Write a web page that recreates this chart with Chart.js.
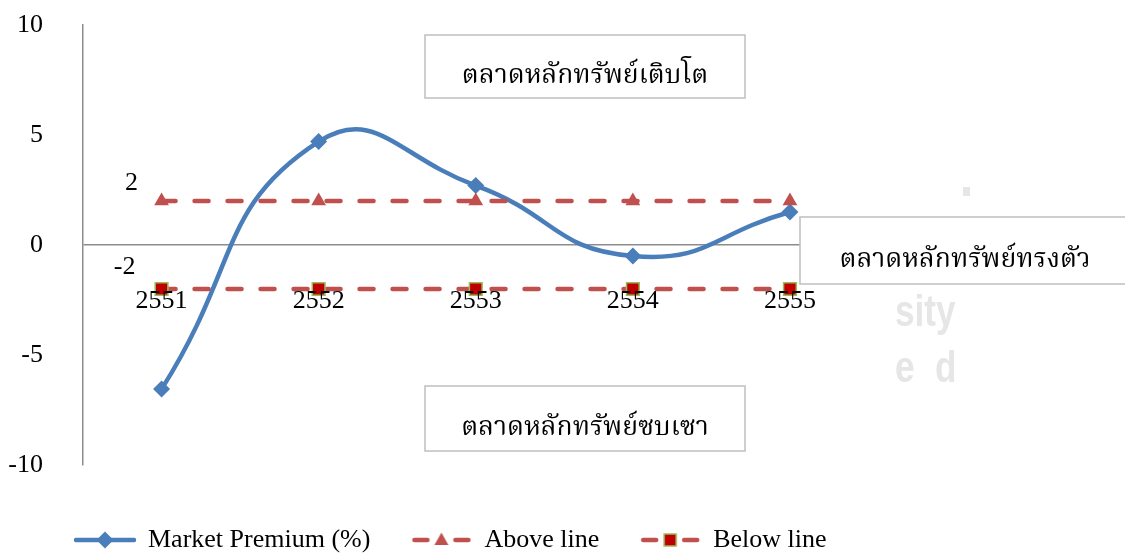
<!DOCTYPE html>
<html>
<head>
<meta charset="utf-8">
<script src="https://cdn.jsdelivr.net/npm/chart.js@4.4.1/dist/chart.umd.min.js"></script>
<style>
    html, body { margin: 0; padding: 0; background: #fff; }
</style>
</head>
<body>
<canvas id="chart" width="1125" height="553"></canvas>
<script>
const years = ['2551', '2552', '2553', '2554', '2555'];
const marketPremium = [-6.55, 4.7, 2.7, -0.5, 1.5];
const aboveLine = [2, 2, 2, 2, 2];
const belowLine = [-2, -2, -2, -2, -2];
const seriesNames = ['Market Premium (%)', 'Above line', 'Below line'];
const zoneNotes = ['ตลาดหลักทรัพย์เติบโต', 'ตลาดหลักทรัพย์ทรงตัว', 'ตลาดหลักทรัพย์ซบเซา'];

const serif = "'Liberation Serif', 'Times New Roman', 'Norasi', 'Noto Serif Thai', 'Noto Sans Thai', serif";
const blue = '#4A7EBB';
const red = '#C0504D';

// little line+marker pictures for the legend
function legendIcon(kind) {
    const c = document.createElement('canvas');
    c.width = 62; c.height = 22;
    const g = c.getContext('2d');
    g.lineWidth = 4.5;
    g.lineCap = 'round';
    if (kind === 0) {
        g.strokeStyle = blue;
        g.beginPath(); g.moveTo(2, 11); g.lineTo(60, 11); g.stroke();
        g.fillStyle = blue;
        g.beginPath(); g.moveTo(31, 2.5); g.lineTo(39.5, 11); g.lineTo(31, 19.5); g.lineTo(22.5, 11); g.closePath(); g.fill();
    } else {
        g.strokeStyle = red;
        g.beginPath(); g.moveTo(4, 11); g.lineTo(17, 11); g.moveTo(45, 11); g.lineTo(58, 11); g.stroke();
        if (kind === 1) {
            g.fillStyle = red;
            g.beginPath(); g.moveTo(31, 3.5); g.lineTo(38, 16); g.lineTo(24, 16); g.closePath(); g.fill();
        } else {
            g.fillStyle = '#C00000';
            g.fillRect(25, 5, 12, 12);
            g.strokeStyle = '#9BBB59';
            g.lineWidth = 1.5;
            g.strokeRect(25, 5, 12, 12);
        }
    }
    return c;
}
const legendIcons = [legendIcon(0), legendIcon(1), legendIcon(2)];

const notesPlugin = {
    id: 'notes',
    beforeDraw(chart) {
        const ctx = chart.ctx;
        ctx.save();
        ctx.fillStyle = '#fff';
        ctx.fillRect(0, 0, chart.width, chart.height);
        // faint watermark left over in the scan
        ctx.fillStyle = '#e6e6e6';
        ctx.fillRect(963, 187, 7, 9);
        ctx.font = "bold 44px 'Liberation Sans', Arial, sans-serif";
        ctx.textBaseline = 'alphabetic';
        ctx.translate(895, 0);
        ctx.scale(0.8, 1);
        ctx.fillText('sity', 0, 326);
        ctx.fillText('e', 0, 382);
        ctx.fillText('d', 50, 382);
        ctx.restore();
    },
    afterDraw(chart) {
        const ctx = chart.ctx;
        const xs = chart.scales.x, ys = chart.scales.y;
        ctx.save();
        ctx.font = '26px ' + serif;
        ctx.fillStyle = '#000';
        ctx.textAlign = 'center';
        ctx.textBaseline = 'middle';

        // category labels sit under the zero line (axis crosses at 0)
        const zeroY = ys.getPixelForValue(0);
        years.forEach((y, i) => ctx.fillText(y, xs.getPixelForValue(i), zeroY + 56));

        // value labels for the two reference lines
        const a = chart.getDatasetMeta(1).data[0];
        const b = chart.getDatasetMeta(2).data[0];
        ctx.fillText(String(aboveLine[0]), a.x - 30, a.y - 18);
        ctx.fillText(String(belowLine[0]), b.x - 37, b.y - 22);

        // zone boxes
        const boxes = [
            { x: 425, y: 35, w: 320, h: 63, ty: 83, tx: 585 },
            { x: 800, y: 217, w: 340, h: 67, ty: 267, tx: 965 },
            { x: 425, y: 386, w: 320, h: 65, ty: 435, tx: 585 }
        ];
        boxes.forEach((bx, i) => {
            ctx.fillStyle = '#fff';
            ctx.fillRect(bx.x, bx.y, bx.w, bx.h);
            ctx.strokeStyle = '#bfbfbf';
            ctx.lineWidth = 1.5;
            ctx.strokeRect(bx.x, bx.y, bx.w, bx.h);
            ctx.fillStyle = '#000';
            ctx.textBaseline = 'alphabetic';
            ctx.font = '26.5px ' + serif;
            ctx.fillText(zoneNotes[i], bx.tx, bx.ty);
        });

        // legend: line + marker sample, then series name
        ctx.font = '26px ' + serif;
        ctx.textAlign = 'left';
        ctx.textBaseline = 'middle';
        let lx = 74;
        const ly = 540;
        chart.data.datasets.forEach((ds, i) => {
            ctx.drawImage(legendIcons[i], lx, ly - 11);
            ctx.fillStyle = '#000';
            ctx.fillText(ds.label, lx + 74, ly);
            lx += 74 + ctx.measureText(ds.label).width + 40;
        });
        ctx.restore();
    }
};

new Chart(document.getElementById('chart').getContext('2d'), {
    type: 'line',
    data: {
        labels: years,
        datasets: [
            {
                label: seriesNames[0],
                data: marketPremium,
                borderColor: blue,
                borderWidth: 4.5,
                tension: 0.5,
                pointStyle: 'rectRot',
                pointRadius: 8.5,
                pointBackgroundColor: blue,
                pointBorderWidth: 0,
                order: 3
            },
            {
                label: seriesNames[1],
                data: aboveLine,
                borderColor: red,
                borderWidth: 4.5,
                borderDash: [14, 19],
                borderCapStyle: 'round',
                pointStyle: 'triangle',
                pointRadius: 8.5,
                pointBackgroundColor: red,
                pointBorderWidth: 0,
                order: 2
            },
            {
                label: seriesNames[2],
                data: belowLine,
                borderColor: red,
                borderWidth: 4.5,
                borderDash: [14, 19],
                borderCapStyle: 'round',
                pointStyle: 'rect',
                pointRadius: 9,
                pointBackgroundColor: '#C00000',
                pointBorderColor: '#9BBB59',
                pointBorderWidth: 1.5,
                order: 1
            }
        ]
    },
    options: {
        responsive: false,
        animation: false,
        layout: { padding: { left: 0, right: 256.5, top: 25, bottom: 88 } },
        scales: {
            x: {
                display: false,
                offset: true
            },
            y: {
                min: -10,
                max: 10,
                afterFit(scale) {
                    scale.width = 83;
                    // tick padding is only meant to push labels sideways
                    scale.paddingTop = 0;
                    scale.paddingBottom = 0;
                },
                grid: {
                    drawTicks: false,
                    lineWidth: 1.5,
                    color: c => (c.tick && c.tick.value === 0 ? '#8c8c8c' : 'rgba(0,0,0,0)')
                },
                border: { display: true, color: '#8c8c8c', width: 1.5 },
                ticks: { stepSize: 5, color: '#000', font: { family: serif, size: 26 }, padding: 40 }
            }
        },
        plugins: {
            tooltip: { enabled: false },
            legend: { display: false }
        }
    },
    plugins: [notesPlugin]
});
</script>
</body>
</html>
